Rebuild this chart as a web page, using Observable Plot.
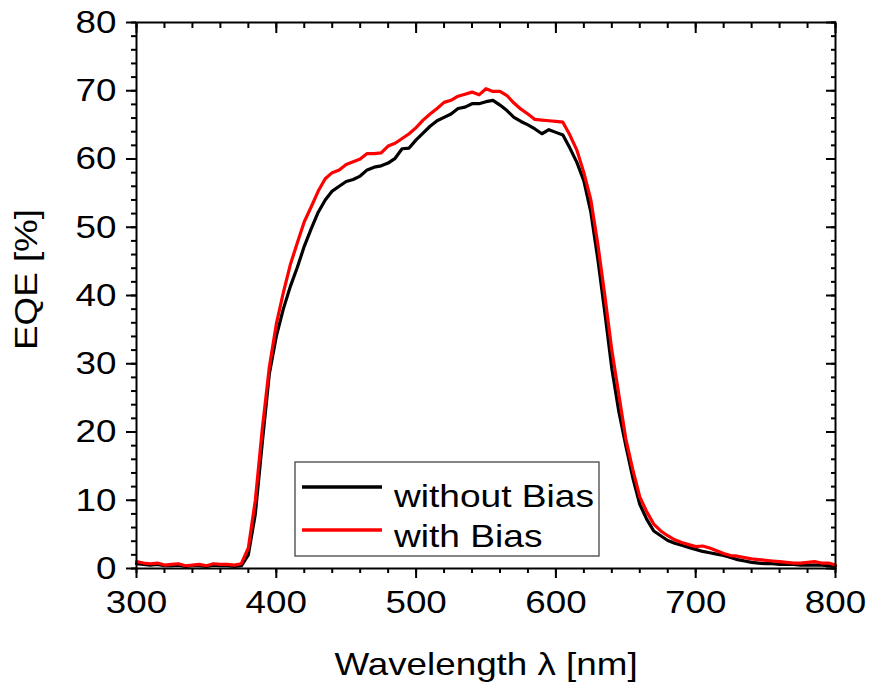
<!DOCTYPE html>
<html>
<head>
<meta charset="utf-8">
<script src="https://cdn.jsdelivr.net/npm/d3@7"></script>
<script src="https://cdn.jsdelivr.net/npm/@observablehq/plot@0.6"></script>
<style>
  html, body { margin: 0; padding: 0; background: #fff; }
  svg { display: block; }
</style>
</head>
<body>
<div id="chart"></div>
<script>
// ---------- data ----------
const seriesNames = ["without Bias", "with Bias"];
const seriesColors = ["#000000", "#ff0000"];

const wavelength = [
  300,305,310,315,320,325,330,335,340,345,350,355,360,365,370,375,380,385,390,395,
  400,405,410,415,420,425,430,435,440,445,450,455,460,465,470,475,480,485,490,495,
  500,505,510,515,520,525,530,535,540,545,550,555,560,565,570,575,580,585,590,595,
  600,605,610,615,620,625,630,635,640,645,650,655,660,665,670,675,680,685,690,695,
  700,705,710,715,720,725,730,735,740,745,750,755,760,765,770,775,780,785,790,795,800
];

const eqeWithoutBias = [
  0.7,0.6,0.5,0.6,0.4,0.4,0.5,0.3,0.4,0.4,0.3,0.5,0.4,0.4,0.3,0.4,2.0,8.0,18.5,28.5,
  34.0,38.0,41.3,44.1,47.2,49.8,52.2,54.0,55.3,56.0,56.7,57.0,57.5,58.4,58.8,59.0,59.4,60.1,61.5,61.6,
  62.8,63.8,64.8,65.6,66.1,66.6,67.4,67.6,68.1,68.1,68.4,68.6,67.9,67.1,66.1,65.5,65.0,64.4,63.7,64.3,
  63.9,63.5,61.6,59.5,56.8,52.2,45.3,37.5,29.3,23.0,18.0,13.3,9.4,7.2,5.5,4.8,4.1,3.7,3.4,3.1,
  2.8,2.5,2.3,2.1,1.9,1.6,1.3,1.1,0.9,0.8,0.7,0.7,0.6,0.6,0.6,0.5,0.5,0.5,0.5,0.4,0.3
];

const eqeWithBias = [
  1.0,0.8,0.7,0.8,0.5,0.6,0.7,0.4,0.5,0.6,0.4,0.7,0.6,0.6,0.5,0.7,3.0,10.0,20.5,29.5,
  35.8,40.4,44.5,47.7,50.8,53.0,55.3,57.1,58.0,58.4,59.2,59.6,60.0,60.8,60.8,60.9,61.9,62.3,63.0,63.7,
  64.6,65.7,66.6,67.4,68.3,68.6,69.2,69.5,69.8,69.4,70.3,69.9,69.9,69.3,68.2,67.3,66.6,65.8,65.7,65.6,
  65.5,65.4,63.5,61.3,58.0,54.0,47.5,40.0,32.0,25.5,19.0,14.5,10.5,8.3,6.5,5.5,4.8,4.2,3.8,3.5,
  3.2,3.3,3.0,2.6,2.2,1.9,1.8,1.6,1.4,1.3,1.2,1.1,1.0,0.9,0.8,0.8,0.9,1.0,0.8,0.8,0.5
];

const xMajorTicks = [300, 400, 500, 600, 700, 800];
const yMajorTicks = [0, 10, 20, 30, 40, 50, 60, 70, 80];
const xMinorTicks = d3.range(300, 801, 20);
const yMinorTicks = d3.range(0, 81, 2);

const xLabel = "Wavelength λ [nm]";
const yLabel = "EQE [%]";

// ---------- table ----------
const seriesValues = [eqeWithoutBias, eqeWithBias];
const rows = [];
seriesNames.forEach((name, s) => {
  wavelength.forEach((w, i) => rows.push({series: name, wavelength: w, eqe: seriesValues[s][i]}));
});

const FONT = "'Liberation Sans', Arial, Helvetica, sans-serif";
const STRETCH = 1.15;

// legend drawn inside the frame
function legendBox(index, scales) {
  const g = d3.create("svg:g");
  g.append("rect")
    .attr("x", 295).attr("y", 462).attr("width", 304).attr("height", 94)
    .attr("fill", "#fff").attr("stroke", "#444").attr("stroke-width", 1.3);
  seriesNames.forEach((name, i) => {
    const ly = 487 + 43 * i;
    g.append("line")
      .attr("x1", 302).attr("x2", 382).attr("y1", ly).attr("y2", ly)
      .attr("stroke", scales.color(name)).attr("stroke-width", 3.5);
    g.append("text")
      .attr("data-no-stretch", "1")
      .attr("text-anchor", "start")
      .attr("transform", `translate(394,${507 + 40 * i}) scale(1.16,1)`)
      .attr("font-size", 32).attr("font-family", FONT).attr("fill", "#000")
      .text(name);
  });
  return g.node();
}

const axisCommon = {label: null, strokeWidth: 2};

const chart = Plot.plot({
  width: 870,
  height: 684,
  marginLeft: 136,
  marginRight: 35,
  marginTop: 22,
  marginBottom: 116,
  x: {domain: [300, 800]},
  y: {domain: [0, 80]},
  color: {domain: seriesNames, range: seriesColors},
  style: {fontFamily: FONT, fontSize: "32px", color: "#000", background: "#fff", overflow: "visible"},
  marks: [
    // bottom axis
    Plot.axisX({...axisCommon, anchor: "bottom", ticks: xMinorTicks, tickSize: 5, fill: "none"}),
    Plot.axisX({...axisCommon, anchor: "bottom", ticks: xMajorTicks, tickSize: 10, tickPadding: 12, fontSize: 32, tickFormat: d => String(d)}),
    // top axis (inward)
    Plot.axisX({...axisCommon, anchor: "top", ticks: xMinorTicks, tickSize: -5, fill: "none"}),
    Plot.axisX({...axisCommon, anchor: "top", ticks: xMajorTicks, tickSize: -10, fill: "none"}),
    // left axis
    Plot.axisY({...axisCommon, anchor: "left", ticks: yMinorTicks, tickSize: 5, fill: "none"}),
    Plot.axisY({...axisCommon, anchor: "left", ticks: yMajorTicks, tickSize: 10, tickPadding: 10, fontSize: 32, tickFormat: d => String(d)}),
    // right axis (inward)
    Plot.axisY({...axisCommon, anchor: "right", ticks: yMinorTicks, tickSize: -5, fill: "none"}),
    Plot.axisY({...axisCommon, anchor: "right", ticks: yMajorTicks, tickSize: -10, fill: "none"}),
    // curves
    Plot.line(rows, {x: "wavelength", y: "eqe", stroke: "series", z: "series", strokeWidth: 3.2, strokeLinejoin: "round", strokeLinecap: "round"}),
    Plot.frame({stroke: "#000", strokeWidth: 2}),
    legendBox,
    // axis titles
    Plot.text([xLabel], {text: d => d, frameAnchor: "bottom", textAnchor: "middle", lineAnchor: "middle", dy: 96, fontSize: 32, fill: "#000"}),
    Plot.text([yLabel], {text: d => d, frameAnchor: "left", textAnchor: "middle", lineAnchor: "middle", rotate: -90, dx: -110, dy: -16, fontSize: 32, fill: "#000"})
  ]
});

// horizontal stretch of the glyphs to match the reference's wide lettering
chart.querySelectorAll("text").forEach(t => {
  if (t.getAttribute("data-no-stretch")) return;
  const tr = t.getAttribute("transform");
  if (tr && tr.includes("translate")) {
    t.setAttribute("transform", tr + ` scale(${STRETCH},1)`);
  } else {
    const x = +(t.getAttribute("x") || 0);
    t.setAttribute("transform", `translate(${x},0) scale(${STRETCH},1) translate(${-x},0)`);
  }
});

document.getElementById("chart").appendChild(chart);
</script>
</body>
</html>
